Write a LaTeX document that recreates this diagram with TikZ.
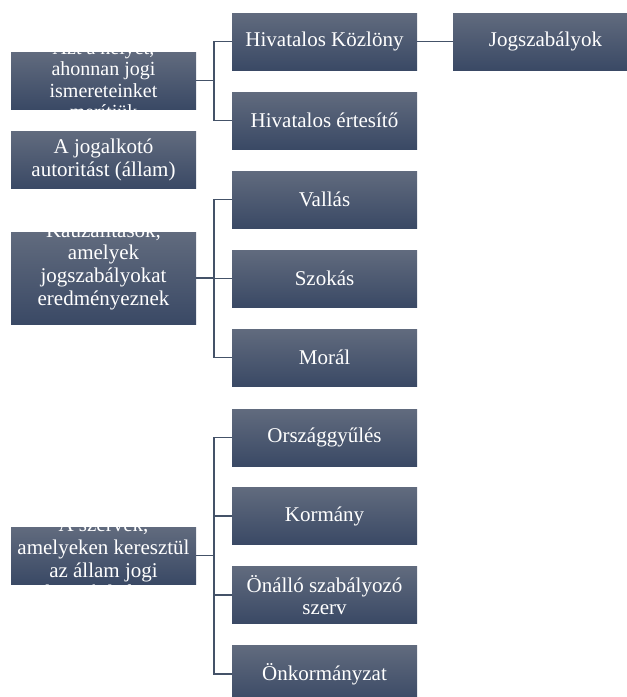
\documentclass[tikz,border=0pt]{standalone}
\usepackage{fontspec}
\setmainfont{Liberation Serif}
\newfontfamily\boxfont{Liberation Serif}
\definecolor{boxtop}{RGB}{97,107,126}
\definecolor{boxbot}{RGB}{58,73,101}
\definecolor{linkc}{RGB}{68,82,104}
\tikzset{
  box/.style={rectangle, top color=boxtop, bottom color=boxbot, minimum width=138.75pt, minimum height=42.75pt, inner sep=0pt, text=white, align=center, font=\boxfont\fontsize{15.75pt}{17pt}\selectfont},
  tall/.style={minimum height=69pt},
  cliptext/.style={inner sep=0pt, text=white, align=center, font=\boxfont\fontsize{15.75pt}{17pt}\selectfont},
  link/.style={draw=linkc, line width=1.2pt},
}
\begin{document}
\begin{tikzpicture}[x=0.75pt,y=-0.75pt]
\clip (0,0) rectangle (627,697);
\node[box, path picture={\node[cliptext, font=\boxfont\fontsize{15pt}{16pt}\selectfont, yshift=-1pt] (src-t) at (path picture bounding box.center) {Azt a helyet,\\ahonnan jogi\\ismereteinket\\merítjük};}] (src) at (103.5,80.5) {};
\node[box] (auth) at (103.5,160) {A jogalkotó\\autoritást (állam)};
\node[box, tall, path picture={\node[cliptext, yshift=9pt] (caus-t) at (path picture bounding box.center) {Kauzalitások,\\amelyek\\jogszabályokat\\eredményeznek};}] (caus) at (103.5,278) {};
\node[box, path picture={\node[cliptext, yshift=-4pt] (organ-t) at (path picture bounding box.center) {A szervek,\\amelyeken keresztül\\az állam jogi\\akaratát kifejezi};}] (organ) at (103.5,555.5) {};

\node[box] (kozlony) at (324.5,41.5) {Hivatalos Közlöny};
\node[box] (ertesito) at (324.5,120.5) {Hivatalos értesítő};
\node[box] (jogsz) at (545.5,41.5) {Jogszabályok};
\node[box] (vallas) at (324.5,199.5) {Vallás};
\node[box] (szokas) at (324.5,278.5) {Szokás};
\node[box] (moral) at (324.5,357.5) {Morál};
\node[box] (orszgy) at (324.5,437.5) {Országgyűlés};
\node[box] (kormany) at (324.5,516) {Kormány};
\node[box] (onallo) at (324.5,595) {Önálló szabályozó\\szerv};
\node[box] (onkorm) at (324.5,674) {Önkormányzat};

\foreach \t in {kozlony,ertesito}
  \draw[link] (src.east) -- ++(18,0) |- (\t.west);
\draw[link] (kozlony.east) -- (jogsz.west);
\foreach \t in {vallas,szokas,moral}
  \draw[link] (caus.east) -- ++(18,0) |- (\t.west);
\foreach \t in {orszgy,kormany,onallo,onkorm}
  \draw[link] (organ.east) -- ++(18,0) |- (\t.west);
\end{tikzpicture}
\end{document}
